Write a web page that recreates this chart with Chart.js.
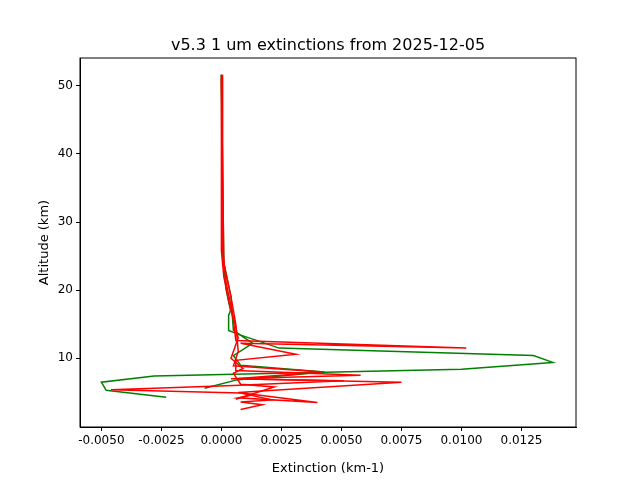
<!DOCTYPE html>
<html><head><script src="https://cdn.jsdelivr.net/npm/chart.js@4"></script>
<style>body{margin:0;background:#fff}</style></head><body>
<canvas id="c" width="640" height="480"></canvas>
<script>
const titleText = "v5.3 1 um extinctions from 2025-12-05";
const yTitle = "Altitude (km)";
const xTicks = [-0.005,-0.0025,0,0.0025,0.005,0.0075,0.01,0.0125];
const yTicks = [10,20,30,40,50];
// Green profile 1
const g1Ext = [0.0,0.00004,0.0002,0.00038,0.0003,0.0003,0.0008,0.0015,0.0024,0.0130,0.0138,0.0100,-0.0028,-0.0050,-0.0048,-0.0023];
const g1Alt = [51.6,25.8,20.0,17.0,16.3,14.1,13.4,12.6,11.5,10.4,9.4,8.4,7.4,6.5,5.3,4.3];
// Green profile 2
const g2Ext = [0.0,0.0001,0.0004,0.0005,0.0013,0.0005,0.0008,0.0043,0.0006,-0.0007];
const g2Alt = [51.6,24.0,19.0,14.1,12.2,10.4,9.0,8.0,6.8,5.6];
// Red profile 1
const r1Ext = [0.0,0.0,0.0001,0.0003,0.0005,0.0006,0.0102,0.0008,0.0031,0.0006,0.0006,0.0058,0.0004,0.0051,0.0005,-0.0046,0.0008,0.0021,0.0008,0.0017,0.0008];
const r1Alt = [51.6,25.8,22.0,18.5,15.6,12.6,11.5,12.2,10.6,9.7,8.2,7.5,7.0,6.7,6.0,5.4,4.9,3.9,3.6,3.2,2.5];
// Red profile 2
const r2Ext = [0.0,0.0001,0.0004,0.0006,0.0007,0.0005,0.0042,0.0006,0.0075,0.0007,0.0040,0.0007,0.0013];
const r2Alt = [51.0,24.0,19.0,15.0,11.0,8.9,8.0,7.0,6.5,5.0,3.5,4.2,4.6];
// Red profile 3
const r3Ext = [0.00005,0.00005,0.0002,0.0005,0.0007,0.0004,0.0009,0.0005,0.0008,0.0022,0.0006];
const r3Alt = [51.6,26.0,21.0,16.0,13.0,10.0,8.5,7.8,6.2,5.8,4.0];

const pts=(x,y)=>x.map((v,i)=>({x:v,y:y[i]}));
const ds=(x,y,c)=>({data:pts(x,y),borderColor:c,backgroundColor:c,showLine:true,pointRadius:0,borderWidth:1.5,tension:0});
const frame={id:'frame',afterDraw(ch){const a=ch.chartArea,c=ch.ctx;c.save();c.strokeStyle='#000';c.lineWidth=1;c.strokeRect(a.left,a.top,a.right-a.left,a.bottom-a.top);
c.fillStyle='#000';c.font='16px "DejaVu Sans"';c.textAlign='center';c.textBaseline='alphabetic';c.fillText(titleText,(a.left+a.right)/2,a.top-8);
c.font='13px "DejaVu Sans"';c.translate(45,(a.top+a.bottom)/2);c.rotate(-Math.PI/2);c.textBaseline='middle';c.fillText(yTitle,0,0);c.restore();}};
const tickGrid={display:true,drawOnChartArea:false,drawTicks:true,tickLength:4,color:'#000'};
new Chart(document.getElementById('c'),{type:'scatter',
data:{datasets:[ds(r1Ext,r1Alt,'red'),ds(r2Ext,r2Alt,'red'),ds(r3Ext,r3Alt,'red'),ds(g1Ext,g1Alt,'green'),ds(g2Ext,g2Alt,'green')]},
options:{responsive:false,animation:false,layout:{padding:{top:58,right:64,left:0,bottom:0}},
plugins:{legend:{display:false},tooltip:{enabled:false}},
scales:{
x:{min:-0.00589,max:0.01477,grid:tickGrid,border:{color:'#000'},
 afterBuildTicks:s=>{s.ticks=xTicks.map(v=>({value:v}));},
 ticks:{color:'#000',font:{family:'DejaVu Sans',size:12},maxRotation:0,callback:v=>Number(v).toFixed(4)},
 title:{display:true,text:'Extinction (km-1)',color:'#000',font:{family:'DejaVu Sans',size:13},padding:{top:2}},
 afterFit:s=>{s.height=53;}},
y:{min:-0.08,max:54.07,grid:tickGrid,border:{color:'#000'},
 afterBuildTicks:s=>{s.ticks=yTicks.map(v=>({value:v}));},
 ticks:{color:'#000',font:{family:'DejaVu Sans',size:12}},
 afterFit:s=>{s.width=80;}}}},
plugins:[frame]});
</script></body></html>
